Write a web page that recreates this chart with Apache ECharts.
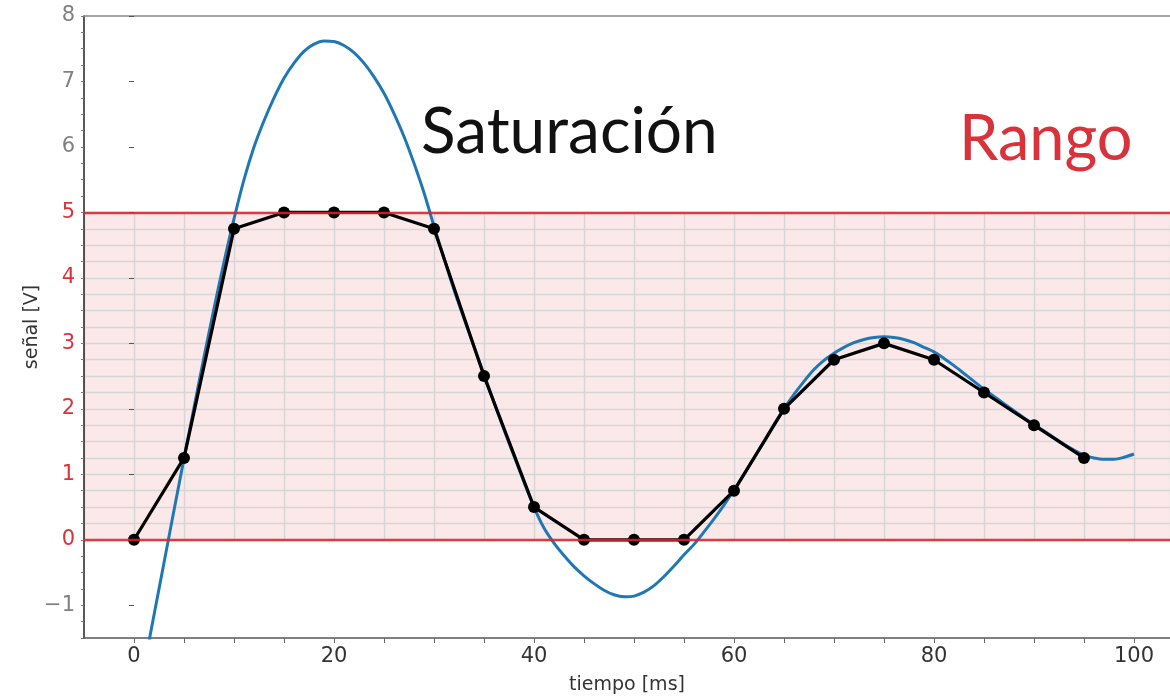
<!DOCTYPE html>
<html>
<head>
<meta charset="utf-8">
<script src="https://cdn.jsdelivr.net/npm/echarts@6/dist/echarts.min.js"></script>
<style>html,body{margin:0;padding:0;background:#fff}#c{width:1170px;height:698px}</style>
</head>
<body>
<div id="c"></div>
<script>
// ---- data ----
const analogT = [0,1,2,3,4,5,6,7,8,9,10,11,12,13,14,15,16,17,18,19,20,21,22,23,24,25,26,27,28,29,30,31,32,33,34,35,36,37,38,39,40,41,42,43,44,45,46,47,48,49,50,51,52,53,54,55,56,57,58,59,60,61,62,63,64,65,66,67,68,69,70,71,72,73,74,75,76,77,78,79,80,81,82,83,84,85,86,87,88,89,90,91,92,93,94,95,96,97,98,99,100];
const analogV = [-2.75,-1.95,-1.15,-0.35,0.45,1.24,2.02,2.79,3.53,4.24,4.9,5.5,6.0,6.4,6.75,7.05,7.28,7.46,7.57,7.62,7.61,7.55,7.44,7.28,7.07,6.82,6.51,6.16,5.75,5.3,4.79,4.3,3.82,3.38,2.95,2.53,2.1,1.68,1.28,0.88,0.5,0.18,-0.05,-0.24,-0.41,-0.55,-0.67,-0.77,-0.84,-0.87,-0.86,-0.8,-0.7,-0.56,-0.4,-0.23,-0.07,0.12,0.32,0.53,0.76,1.0,1.25,1.5,1.76,2.0,2.22,2.42,2.6,2.74,2.85,2.94,3.01,3.06,3.09,3.1,3.09,3.06,3.01,2.94,2.87,2.77,2.66,2.54,2.42,2.3,2.19,2.08,1.97,1.86,1.76,1.66,1.56,1.46,1.37,1.29,1.25,1.23,1.23,1.26,1.31];
const sampleT = [0,5,10,15,20,25,30,35,40,45,50,55,60,65,70,75,80,85,90,95];
const sampleV = [0,1.25,4.75,5,5,5,4.75,2.5,0.5,0,0,0,0.75,2,2.75,3,2.75,2.25,1.75,1.25];
const yLabels = [-1,0,1,2,3,4,5,6,7,8];
const xLabels = [0,20,40,60,80,100];
const rangeLow = 0, rangeHigh = 5;

// ---- layout ----
const W = 1170, H = 698;
const gTop = 16, gBottom = 60, gLeft = 84, gRight = 0;
const yMin = -1.5, yMax = 8, xMin = -5, xMax = 103.6;
const plotH = H - gTop - gBottom;
const py = v => gTop + (yMax - v) / (yMax - yMin) * plotH;
const bandTop = py(rangeHigh), bandBottom = H - py(rangeLow);

const chart = echarts.init(document.getElementById('c'), null, {renderer: 'canvas'});
const font = 'DejaVu Sans';
const option = {
  animation: false,
  grid: [
    {left: gLeft, right: gRight, top: gTop, bottom: gBottom, show: false, containLabel: false, outerBoundsMode: 'none'},
    {left: gLeft, right: gRight, top: bandTop, bottom: bandBottom, show: true, backgroundColor: '#fbe8e8', borderWidth: 0, containLabel: false, outerBoundsMode: 'none'}
  ],
  xAxis: [
    {type: 'value', gridIndex: 0, min: xMin, max: xMax, interval: 5, position: 'bottom',
     name: 'tiempo [ms]', nameLocation: 'middle', nameGap: 38,
     nameTextStyle: {fontFamily: font, fontSize: 19, color: '#333'},
     axisLine: {show: true, onZero: false, lineStyle: {color: '#555', width: 1.5}},
     axisTick: {show: true, length: 5, lineStyle: {color: '#666'}},
     axisLabel: {fontFamily: font, fontSize: 21, color: '#333', margin: 8, showMinLabel: false, showMaxLabel: false,
       formatter: v => xLabels.indexOf(Math.round(v)) >= 0 && Math.abs(v - Math.round(v)) < 1e-6 ? String(Math.round(v)) : ''},
     splitLine: {show: false}},
    {type: 'value', gridIndex: 0, min: xMin, max: xMax, position: 'top',
     axisLine: {show: true, onZero: false, lineStyle: {color: '#888', width: 1.5}},
     axisTick: {show: false}, axisLabel: {show: false}, splitLine: {show: false}},
    {type: 'value', gridIndex: 1, min: xMin, max: xMax, interval: 5,
     axisLine: {show: false}, axisTick: {show: false}, axisLabel: {show: false},
     splitLine: {show: true, lineStyle: {color: '#d6d6d6', width: 1.4}}}
  ],
  yAxis: [
    {type: 'value', gridIndex: 0, min: yMin, max: yMax, interval: 0.25, position: 'left',
     axisLine: {show: true, onZero: false, lineStyle: {color: '#222', width: 1.5}},
     axisTick: {show: true, length: 3, lineStyle: {color: '#777'}},
     axisLabel: {show: false}, splitLine: {show: false}},
    {type: 'value', gridIndex: 0, min: yMin, max: yMax, position: 'left',
     name: 'señal [V]', nameLocation: 'middle', nameGap: 42, nameRotate: 90, nameMoveOverlap: false,
     nameTextStyle: {fontFamily: font, fontSize: 19, color: '#333'},
     axisLine: {show: false},
     axisTick: {show: true, length: 5, customValues: yLabels, lineStyle: {color: '#555'}},
     axisLabel: {fontFamily: font, fontSize: 21, margin: 9, customValues: yLabels,
       formatter: v => (v < 0 ? '\u2212' + Math.abs(v) : String(v)),
       color: v => (v >= rangeLow && v <= rangeHigh ? '#d9323a' : '#808080')},
     splitLine: {show: false}},
    {type: 'value', gridIndex: 1, min: rangeLow, max: rangeHigh, interval: 0.25,
     axisLine: {show: false}, axisTick: {show: false}, axisLabel: {show: false},
     splitLine: {show: true, lineStyle: {color: '#d6d6d6', width: 1.4}}}
  ],
  series: [
    {type: 'line', xAxisIndex: 0, yAxisIndex: 0, data: analogT.map((t, i) => [t, analogV[i]]),
     smooth: 0.3, showSymbol: false, clip: true, z: 3,
     lineStyle: {color: '#1f77b4', width: 3}},
    {type: 'line', xAxisIndex: 0, yAxisIndex: 0, data: sampleT.map((t, i) => [t, sampleV[i]]),
     symbol: 'circle', symbolSize: 12, z: 4,
     itemStyle: {color: '#000'}, lineStyle: {color: '#000', width: 3.2}},
    {type: 'line', xAxisIndex: 0, yAxisIndex: 0, data: [], z: 6, silent: true,
     markLine: {symbol: 'none', silent: true, label: {show: false},
       lineStyle: {color: '#d9232d', width: 2.4, type: 'solid', opacity: 0.88},
       data: [{yAxis: rangeLow}, {yAxis: rangeHigh}]}}
  ],
  graphic: [
    {type: 'text', left: 421, top: 100, z: 10,
     style: {text: 'Saturación', fontFamily: 'Lato', fontSize: 64, fill: '#111'}},
    {type: 'text', left: 959, top: 108, z: 10,
     style: {text: 'Rango', fontFamily: 'Lato', fontSize: 63, fill: '#d9323a'}}
  ]
};
chart.setOption(option);
</script>
</body>
</html>
